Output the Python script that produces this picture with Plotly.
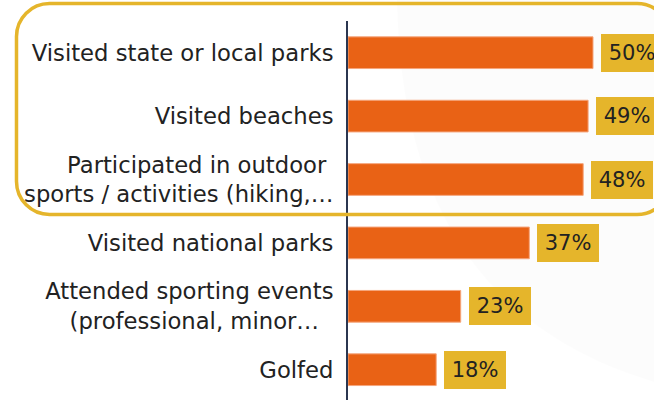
import plotly.graph_objects as go

# Survey results: share of respondents doing each activity
categories = [
    "Visited state or local parks",
    "Visited beaches",
    "Participated in outdoor\u00a0<br>sports / activities (hiking,…",
    "Visited national parks",
    "Attended sporting events<br>(professional, minor…\u00a0\u00a0",
    "Golfed",
]
values = [50, 49, 48, 37, 23, 18]

W, H = 654, 400
ML, MT = 348, 21
PW, PH = W - ML, H - MT

BAR = "#E96215"
GOLD = "#E5B52B"
TEXT = "#222222"
FONT = "DejaVu Sans"


def px(x):
    return (x - ML) / PW


def py(y):
    return (H - y) / PH


def rounded_rect(x0, y0, x1, y1, r):
    k = 0.5523 * r
    pts = [
        f"M {px(x0 + r)},{py(y0)}",
        f"L {px(x1 - r)},{py(y0)}",
        f"C {px(x1 - r + k)},{py(y0)} {px(x1)},{py(y0 + r - k)} {px(x1)},{py(y0 + r)}",
        f"L {px(x1)},{py(y1 - r)}",
        f"C {px(x1)},{py(y1 - r + k)} {px(x1 - r + k)},{py(y1)} {px(x1 - r)},{py(y1)}",
        f"L {px(x0 + r)},{py(y1)}",
        f"C {px(x0 + r - k)},{py(y1)} {px(x0)},{py(y1 - r + k)} {px(x0)},{py(y1 - r)}",
        f"L {px(x0)},{py(y0 + r)}",
        f"C {px(x0)},{py(y0 + r - k)} {px(x0 + r - k)},{py(y0)} {px(x0 + r)},{py(y0)}",
        "Z",
    ]
    return " ".join(pts)


fig = go.Figure()
fig.add_trace(
    go.Bar(
        x=values,
        y=categories,
        orientation="h",
        width=0.5,
        marker=dict(color=BAR, line=dict(color="#F5A57C", width=1)),
        hoverinfo="skip",
    )
)

for c, v in zip(categories, values):
    fig.add_annotation(
        x=v,
        y=c,
        xref="x",
        yref="y",
        text=f"{v}%",
        showarrow=False,
        xanchor="left",
        yanchor="middle",
        xshift=8,
        width=62,
        height=38,
        align="center",
        valign="middle",
        bgcolor=GOLD,
        borderpad=0,
        borderwidth=0,
        font=dict(family=FONT, size=21, color=TEXT),
    )

# faint backdrop sweep in the upper right
backdrop = (
    f"M {px(397)},{py(0)} "
    f"C {px(400)},{py(200)} {px(480)},{py(330)} {px(654)},{py(382)} "
    f"L {px(660)},{py(382)} L {px(660)},{py(0)} Z"
)
fig.add_shape(
    type="path", xref="paper", yref="paper", path=backdrop,
    fillcolor="rgba(0,0,0,0.012)", line=dict(width=0), layer="below",
)

# highlight frame around the top three activities
fig.add_shape(
    type="path", xref="paper", yref="paper",
    path=rounded_rect(16.5, 3.5, 670, 214.5, 33),
    line=dict(color=GOLD, width=3.5), layer="above",
)

fig.update_layout(
    width=W,
    height=H,
    margin=dict(l=ML, r=0, t=MT, b=0, autoexpand=False),
    paper_bgcolor="white",
    plot_bgcolor="rgba(0,0,0,0)",
    showlegend=False,
    xaxis=dict(
        range=[0, PW / 4.9],
        visible=False,
        fixedrange=True,
    ),
    yaxis=dict(
        type="category",
        categoryorder="array",
        categoryarray=categories,
        range=[-0.5 + PH / 63.4, -0.5],
        showline=True,
        linecolor="#2B3650",
        linewidth=2,
        showgrid=False,
        zeroline=False,
        ticks="",
        ticklabelstandoff=8,
        automargin=False,
        tickfont=dict(family=FONT, size=22.7, color=TEXT),
        fixedrange=True,
    ),
)

fig.write_html("out.html")
